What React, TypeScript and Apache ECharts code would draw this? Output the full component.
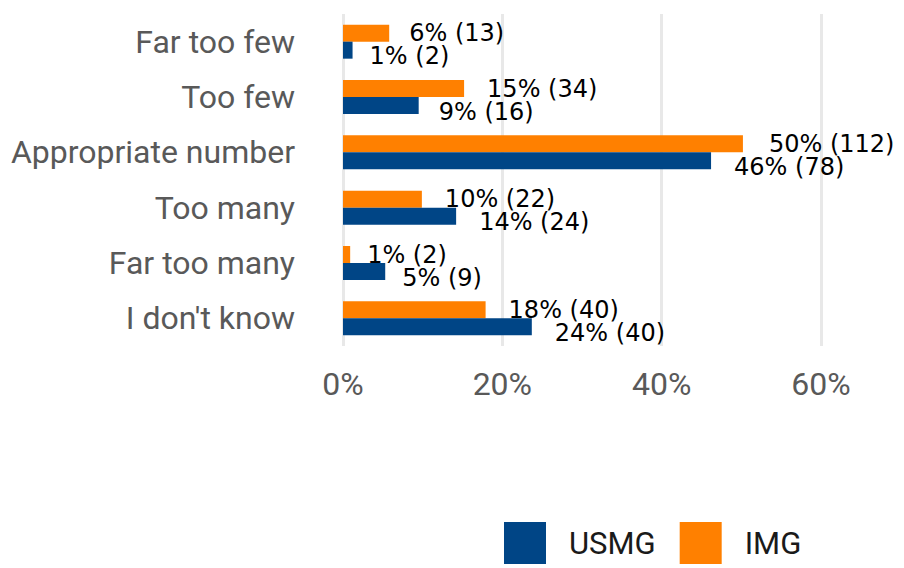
import React, { useEffect, useRef } from "react";
import * as echarts from "echarts";

const categories = ["Far too few", "Too few", "Appropriate number", "Too many", "Far too many", "I don't know"];
const usmgPct = [1.2, 9.5, 46.2, 14.2, 5.3, 23.7];
const usmgPctLabel = [1, 9, 46, 14, 5, 24];
const usmgCount = [2, 16, 78, 24, 9, 40];
const imgPct = [5.8, 15.2, 50.2, 9.9, 0.9, 17.9];
const imgPctLabel = [6, 15, 50, 10, 1, 18];
const imgCount = [13, 34, 112, 22, 2, 40];
const xTicks = [0, 20, 40, 60];

const BLUE = "#004586";
const ORANGE = "#ff8000";

function makeData(pcts: number[], pctLabels: number[], counts: number[], dy: number) {
  return pcts.map((p, i) => {
    const text = `${pctLabels[i]}% (${counts[i]})`;
    return {
      value: p,
      label: { formatter: text, offset: [3 * text.length - 1, dy] },
    };
  });
}

export default function App() {
  const ref = useRef<HTMLDivElement>(null);
  useEffect(() => {
    document.body.style.margin = "0";
    if (!ref.current) return;
    const chart = echarts.init(ref.current, undefined, { renderer: "svg" });
    const labelStyle = {
      show: true,
      position: "right" as const,
      distance: 0,
      fontFamily: "DejaVu Sans",
      fontSize: 24,
      color: "#000000",
    };
    chart.setOption({
      animation: false,
      grid: { left: 343, right: 83, top: 14, bottom: 222, containLabel: false },
      legend: {
        data: ["USMG", "IMG"],
        top: 517,
        left: 499,
        itemWidth: 42,
        itemHeight: 42,
        itemGap: 24,
        icon: "rect",
        textStyle: { fontFamily: "Roboto", fontSize: 31, color: "#1a1a1a", padding: [0, 0, 0, 18] },
      },
      xAxis: {
        type: "value",
        min: 0,
        max: 60,
        interval: 20,
        axisLine: { show: false },
        axisTick: { show: false },
        splitLine: { lineStyle: { color: "#e8e8e8", width: 3 } },
        axisLabel: {
          formatter: (v: number) => (xTicks.includes(v) ? `${v}%` : ""),
          fontFamily: "Roboto",
          fontSize: 32,
          color: "#595959",
          margin: 22,
        },
      },
      yAxis: {
        type: "category",
        data: categories,
        inverse: true,
        axisLine: { show: false },
        axisTick: { show: false },
        axisLabel: { fontFamily: "Roboto", fontSize: 32, color: "#595959", margin: 48, padding: [4, 0, 0, 0] },
      },
      series: [
        {
          name: "IMG",
          type: "bar",
          data: makeData(imgPct, imgPctLabel, imgCount, 0),
          itemStyle: { color: ORANGE },
          barWidth: 17,
          barGap: "0%",
          label: labelStyle,
        },
        {
          name: "USMG",
          type: "bar",
          data: makeData(usmgPct, usmgPctLabel, usmgCount, 6),
          itemStyle: { color: BLUE },
          barWidth: 17,
          barGap: "0%",
          label: labelStyle,
        },
      ],
    });
    return () => chart.dispose();
  }, []);
  return <div ref={ref} style={{ width: 904, height: 568 }} />;
}
